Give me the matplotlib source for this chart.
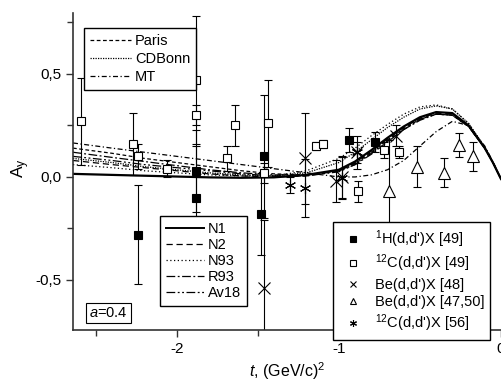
import numpy as np
import matplotlib.pyplot as plt
from matplotlib.lines import Line2D
from matplotlib.ticker import MultipleLocator, FuncFormatter

plt.rcParams['font.family'] = ['Liberation Sans', 'DejaVu Sans']
plt.rcParams['mathtext.fontset'] = 'custom'
plt.rcParams['mathtext.rm'] = 'Liberation Sans'
plt.rcParams['mathtext.it'] = 'Liberation Sans:italic'

# theory curves, A_y vs t
t_th = [-2.64, -2.4, -2.2, -2.0, -1.8, -1.6, -1.4, -1.2, -1.0, -0.9, -0.8, -0.7,
        -0.6, -0.5, -0.4, -0.3, -0.2, -0.1, -0.05, 0.0]
n1 = [0.015, 0.010, 0.006, 0.002, -0.002, -0.004, -0.002, 0.010, 0.035, 0.075, 0.13, 0.19,
      0.245, 0.29, 0.315, 0.31, 0.25, 0.14, 0.07, -0.01]
n2 = [0.08, 0.06, 0.045, 0.03, 0.015, 0.005, 0.0, 0.005, 0.03, 0.07, 0.125, 0.185,
      0.24, 0.285, 0.31, 0.305, 0.25, 0.14, 0.07, -0.01]
n93 = [0.06, 0.045, 0.03, 0.02, 0.01, 0.005, 0.005, 0.03, 0.09, 0.14, 0.2, 0.255,
       0.305, 0.34, 0.35, 0.33, 0.26, 0.145, 0.07, -0.01]
r93 = [0.12, 0.095, 0.075, 0.055, 0.035, 0.02, 0.01, 0.01, 0.03, 0.06, 0.11, 0.17,
       0.23, 0.275, 0.305, 0.30, 0.245, 0.14, 0.07, -0.01]
av18 = [0.10, 0.08, 0.06, 0.045, 0.03, 0.015, 0.005, 0.005, 0.025, 0.06, 0.115, 0.175,
        0.23, 0.28, 0.305, 0.30, 0.245, 0.14, 0.07, -0.01]
paris = [0.14, 0.115, 0.09, 0.07, 0.05, 0.03, 0.015, 0.01, 0.03, 0.065, 0.12, 0.18,
         0.235, 0.28, 0.305, 0.30, 0.245, 0.14, 0.07, -0.01]
cdbonn = [0.09, 0.07, 0.05, 0.035, 0.02, 0.01, 0.005, 0.02, 0.07, 0.12, 0.18, 0.24,
          0.29, 0.33, 0.345, 0.33, 0.26, 0.145, 0.07, -0.01]
mt = [0.165, 0.14, 0.12, 0.10, 0.08, 0.06, 0.04, 0.02, 0.0, 0.0, 0.01, 0.035,
      0.08, 0.15, 0.22, 0.27, 0.25, 0.15, 0.075, -0.01]

# experimental data: t, A_y, error
h1_t = [-2.24, -1.88, -1.88, -1.46, -1.48, -0.94, -0.78]
h1_a = [-0.28, 0.03, -0.10, 0.10, -0.18, 0.18, 0.17]
h1_e = [0.24, 0.20, 0.25, 0.30, 0.20, 0.06, 0.05]

c12_t = [-2.59, -2.27, -2.24, -2.06, -1.88, -1.88, -1.69, -1.64, -1.44, -1.46,
         -1.14, -1.10, -0.88, -0.72, -0.63]
c12_a = [0.27, 0.16, 0.10, 0.04, 0.47, 0.30, 0.09, 0.25, 0.26, 0.02,
         0.15, 0.16, -0.07, 0.13, 0.12]
c12_e = [0.21, 0.15, 0.06, 0.04, 0.31, 0.05, 0.06, 0.10, 0.21, 0.05,
         0.02, 0.02, 0.05, 0.04, 0.03]

be48_t = [-1.46, -1.21, -1.02, -0.98, -0.89, -0.65]
be48_a = [-0.54, 0.09, -0.02, 0.0, 0.12, 0.20]
be48_e = [0.33, 0.22, 0.10, 0.10, 0.08, 0.05]

be47_t = [-0.69, -0.52, -0.35, -0.26, -0.17]
be47_a = [-0.07, 0.05, 0.02, 0.155, 0.10]
be47_e = [0.25, 0.10, 0.07, 0.06, 0.07]

c56_t = [-1.30, -1.21, -0.98, -0.89]
c56_a = [-0.04, -0.055, -0.005, 0.12]
c56_e = [0.04, 0.14, 0.10, 0.05]

fig = plt.figure(figsize=(5.02, 3.88), dpi=100)
ax = fig.add_axes([0.1454, 0.1495, 0.8526, 0.817])

lw = 0.9
ax.plot(t_th, n1, color='black', lw=1.6, ls='-')
ax.plot(t_th, n2, color='black', lw=lw, ls=(0, (5, 3)))
ax.plot(t_th, n93, color='black', lw=lw, ls=(0, (1, 2)))
ax.plot(t_th, r93, color='black', lw=lw, ls=(0, (7, 2, 1.5, 2)))
ax.plot(t_th, av18, color='black', lw=lw, ls=(0, (7, 2, 1.5, 2, 1.5, 2)))
ax.plot(t_th, paris, color='black', lw=lw, ls=(0, (3, 2)))
ax.plot(t_th, cdbonn, color='black', lw=lw, ls=(0, (1, 1)))
ax.plot(t_th, mt, color='black', lw=lw, ls=(0, (4, 2, 1, 2)))

eb = dict(color='black', ecolor='black', elinewidth=0.8, capsize=3, capthick=0.8,
          ls='none', markeredgewidth=0.8)
ax.errorbar(c12_t, c12_a, yerr=c12_e, marker='s', mfc='white', markersize=6, **eb)
ax.errorbar(h1_t, h1_a, yerr=h1_e, marker='s', mfc='black', markersize=6, **eb)
ax.errorbar(be48_t, be48_a, yerr=be48_e, marker='x', markersize=8, **eb)
ax.errorbar(be47_t, be47_a, yerr=be47_e, marker='^', mfc='white', markersize=8, **eb)
ax.errorbar(c56_t, c56_a, yerr=c56_e, marker=(6, 2, 0), markersize=8, **eb)

ax.set_xlim(-2.64, 0.0)
ax.set_ylim(-0.743, 0.796)
ax.xaxis.set_major_locator(MultipleLocator(1))
ax.xaxis.set_minor_locator(MultipleLocator(0.5))
ax.yaxis.set_major_locator(MultipleLocator(0.5))
ax.yaxis.set_minor_locator(MultipleLocator(0.25))
ax.xaxis.set_major_formatter(FuncFormatter(lambda v, p: '%d' % round(v)))
ax.yaxis.set_major_formatter(FuncFormatter(lambda v, p: ('%.1f' % v).replace('.', ',')))
for s in ['top', 'right']:
    ax.spines[s].set_visible(False)
for s in ['left', 'bottom']:
    ax.spines[s].set_color('#333333')
    ax.spines[s].set_linewidth(1.2)
ax.tick_params(which='major', direction='out', length=5, width=1, labelsize=11, color='#333333')
ax.tick_params(which='minor', direction='out', length=4, width=1, color='#333333')

ax.set_xlabel('$t$, (GeV/c)$^2$', fontsize=11.5)
ax.set_ylabel('A$_\\mathregular{y}$', fontsize=12.5)
ax.xaxis.set_label_coords(0.5, -0.095)
ax.yaxis.set_label_coords(-0.095, 0.51)

leg_kw = dict(frameon=True, fancybox=False, framealpha=1, edgecolor='black',
              fontsize=10.5, borderaxespad=0, borderpad=0.4)

h_pot = [Line2D([], [], color='black', lw=lw, ls=(0, (3, 2))),
         Line2D([], [], color='black', lw=lw, ls=(0, (1, 1))),
         Line2D([], [], color='black', lw=lw, ls=(0, (4, 2, 1, 2)))]
leg1 = ax.legend(h_pot, ['Paris', 'CDBonn', 'MT'], loc='upper left',
                 bbox_to_anchor=(0.026, 0.953), handlelength=2.8, handletextpad=0.3,
                 labelspacing=0.3, **leg_kw)
ax.add_artist(leg1)

h_wf = [Line2D([], [], color='black', lw=1.4, ls='-'),
        Line2D([], [], color='black', lw=lw, ls=(0, (5, 3))),
        Line2D([], [], color='black', lw=lw, ls=(0, (1, 2))),
        Line2D([], [], color='black', lw=lw, ls=(0, (7, 2, 1.5, 2))),
        Line2D([], [], color='black', lw=lw, ls=(0, (7, 2, 1.5, 2, 1.5, 2)))]
leg2 = ax.legend(h_wf, ['N1', 'N2', 'N93', 'R93', 'Av18'], loc='upper left',
                 bbox_to_anchor=(0.203, 0.36), handlelength=2.6, handletextpad=0.3,
                 labelspacing=0.15, **leg_kw)
ax.add_artist(leg2)

mk = dict(color='black', ls='none', markersize=5, markeredgewidth=0.8)
h_exp = [Line2D([], [], marker='s', mfc='black', **mk),
         Line2D([], [], marker='s', mfc='white', **mk),
         Line2D([], [], marker='x', **mk),
         Line2D([], [], marker='^', mfc='white', **mk),
         Line2D([], [], marker=(6, 2, 0), **mk)]
lab_exp = ["$^{1}$H(d,d')X [49]", "$^{12}$C(d,d')X [49]", "Be(d,d')X [48]",
           "Be(d,d')X [47,50]", "$^{12}$C(d,d')X [56]"]
leg3 = ax.legend(h_exp, lab_exp, loc='upper left', bbox_to_anchor=(0.607, 0.34),
                 handlelength=2.0, handletextpad=0.5, labelspacing=0.22, **leg_kw)

ax.text(0.038, 0.04, '$a$=0.4', transform=ax.transAxes, fontsize=10.5,
        bbox=dict(boxstyle='square,pad=0.2', fc='white', ec='black', lw=0.8))

fig.savefig('out.png', dpi=100)
